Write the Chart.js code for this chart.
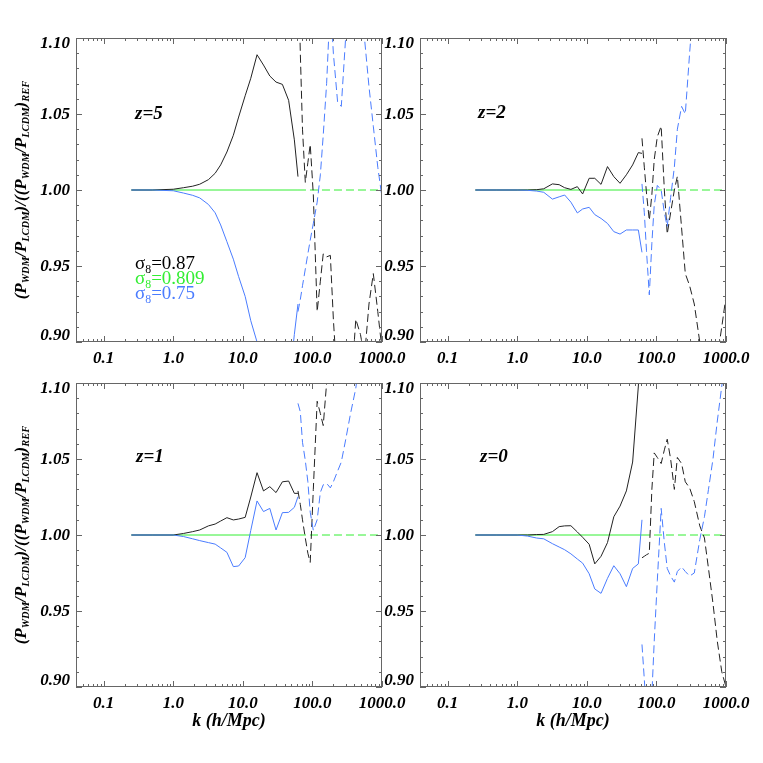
<!DOCTYPE html>
<html>
<head>
<meta charset="utf-8">
<script src="https://cdn.jsdelivr.net/npm/chart.js@4.4.1/dist/chart.umd.min.js"></script>
<style>
  body { margin: 0; background: #fff; width: 763px; height: 763px; position: relative; overflow: hidden; }
  canvas { position: absolute; }
  .txt { position: absolute; white-space: nowrap; font-family: "Liberation Serif", "DejaVu Serif", serif; line-height: 1; color: #000; }
  .bi { font-style: italic; font-weight: bold; }
  .ytitle { font-size: 17px; transform: translate(-50%, -50%) rotate(-90deg); }
  .xtitle { font-size: 18px; transform: translate(-50%, -50%); }
  .zlab { font-size: 19px; transform: translateY(-50%); }
  .leg { font-size: 19px; transform: translateY(-50%); }
  sub { font-size: 0.62em; vertical-align: -0.35em; line-height: 0; }
</style>
</head>
<body>
<canvas id="pz5" width="386" height="356" style="left:26px;top:26px"></canvas>
<canvas id="pz2" width="386" height="356" style="left:370px;top:26px"></canvas>
<canvas id="pz1" width="386" height="356" style="left:26px;top:371px"></canvas>
<canvas id="pz0" width="386" height="356" style="left:370px;top:371px"></canvas>

<div class="txt bi ytitle" style="left:20px;top:190px">(P<sub>WDM</sub>/P<sub>LCDM</sub>)/((P<sub>WDM</sub>/P<sub>LCDM</sub>)<sub>REF</sub></div>
<div class="txt bi ytitle" style="left:20px;top:535px">(P<sub>WDM</sub>/P<sub>LCDM</sub>)/((P<sub>WDM</sub>/P<sub>LCDM</sub>)<sub>REF</sub></div>
<div class="txt bi xtitle" style="left:229px;top:720px">k (h/Mpc)</div>
<div class="txt bi xtitle" style="left:573px;top:720px">k (h/Mpc)</div>

<div class="txt bi zlab" style="left:135px;top:112px">z=5</div>
<div class="txt bi zlab" style="left:478px;top:111px">z=2</div>
<div class="txt bi zlab" style="left:136px;top:455px">z=1</div>
<div class="txt bi zlab" style="left:480px;top:455px">z=0</div>

<div class="txt leg" style="left:135px;top:262px;color:#000">σ<sub>8</sub>=0.87</div>
<div class="txt leg" style="left:135px;top:277px;color:#33ee33">σ<sub>8</sub>=0.809</div>
<div class="txt leg" style="left:135px;top:292px;color:#4a7cff">σ<sub>8</sub>=0.75</div>

<script>
// k bins (h/Mpc), solid part up to the Nyquist-like cut, dashed beyond
const kSolid = [0.25, 0.5, 1.0, 1.4, 1.9, 2.4, 3.2, 4.0, 4.8, 5.9, 7.3, 8.7, 10.8, 13, 16, 19.8, 24.4, 30, 37, 45.5, 55, 62];
const kDash = [62, 67, 72, 79, 86, 93, 103, 117, 130, 143, 160, 181, 200, 230, 260, 300, 350, 420, 490, 560, 650, 750, 870, 1000];

// reference model (sigma8 = 0.809) is flat at 1
const refK = [0.25, 62];
const refKDash = [62, 1000];
const refSolid = [1.0, 1.0];
const refDash = [1.0, 1.0];

// z = 5
const z5BlackSolid = [1.0, 1.0, 1.0005, 1.0015, 1.0025, 1.0038, 1.0068, 1.011, 1.0165, 1.025, 1.036, 1.048, 1.062, 1.0735, 1.089, 1.0822, 1.075, 1.071, 1.0695, 1.059, 1.033, 1.0088];
const z5BlueSolid = [1.0, 1.0, 0.9995, 0.998, 0.9965, 0.9948, 0.9905, 0.985, 0.977, 0.966, 0.9545, 0.943, 0.930, 0.914, 0.90, 0.885, 0.87, 0.86, 0.855, 0.87, 0.905, 0.925];
const z5BlackDash = [1.16, 1.09, 1.04, 1.005, 1.018, 1.03, 0.997, 0.92, 0.94, 0.958, 0.956, 0.957, 0.915, 0.87, 0.85, 0.84, 0.86, 0.915, 0.905, 0.89, 0.925, 0.945, 0.92, 0.895];
const z5BlueDash = [0.92, 0.928, 0.937, 0.948, 0.958, 0.967, 0.978, 0.992, 1.01, 1.036, 1.07, 1.125, 1.09, 1.058, 1.055, 1.10, 1.14, 1.15, 1.14, 1.10, 1.068, 1.042, 1.015, 0.995];

// z = 2
const z2BlackSolid = [1.0, 1.0, 1.0, 1.0, 1.0002, 1.0008, 1.004, 1.0035, 1.0015, 1.0004, 1.0022, 0.9974, 1.0077, 1.0077, 1.0037, 1.0154, 1.0088, 1.0044, 1.010, 1.0165, 1.0246, 1.0241];
const z2BlueSolid = [1.0, 1.0, 1.0, 0.9998, 0.9993, 0.9985, 0.994, 0.9955, 0.9967, 0.992, 0.9849, 0.9875, 0.9886, 0.9838, 0.9813, 0.978, 0.9726, 0.971, 0.9737, 0.9737, 0.9737, 0.959];
const z2BlackDash = [1.034, 1.015, 0.998, 0.98, 0.997, 1.02, 1.035, 1.042, 1.0, 0.971, 0.985, 1.0, 1.009, 0.975, 0.945, 0.937, 0.925, 0.90, 0.885, 0.875, 0.875, 0.89, 0.91, 0.93];
const z2BlueDash = [1.004, 0.985, 0.96, 0.931, 0.965, 0.99, 1.003, 1.0, 0.985, 0.976, 0.995, 1.015, 1.04, 1.055, 1.05, 1.09, 1.13, 1.16, null, null, null, null, null, null];

// z = 1
const z1BlackSolid = [1.0, 1.0, 1.0, 1.001, 1.0022, 1.0033, 1.006, 1.0072, 1.0092, 1.0114, 1.0099, 1.0105, 1.0116, 1.025, 1.041, 1.029, 1.0318, 1.0279, 1.035, 1.0355, 1.0274, 1.0274];
const z1BlueSolid = [1.0, 1.0, 1.0, 0.999, 0.9975, 0.9963, 0.995, 0.994, 0.9915, 0.9886, 0.9792, 0.9796, 0.9851, 1.003, 1.0224, 1.0154, 1.0175, 1.0033, 1.0147, 1.0149, 1.0182, 1.0252];
const z1BlackDash = [1.029, 1.02, 1.01, 0.998, 0.988, 0.982, 1.03, 1.088, 1.08, 1.072, 1.10, 1.14, 1.17, null, null, null, null, null, null, null, null, null, null, null];
const z1BlueDash = [1.0866, 1.081, 1.061, 1.049, 1.035, 1.015, 1.003, 1.010, 1.028, 1.033, 1.034, 1.031, 1.035, 1.042, 1.048, 1.0625, 1.079, 1.0965, 1.12, null, null, null, null, null];

// z = 0
const z0BlackSolid = [1.0, 1.0, 1.0, 1.0, 1.0003, 1.0004, 1.0022, 1.0055, 1.006, 1.0061, 1.002, 0.9985, 0.9939, 0.981, 0.986, 0.995, 1.012, 1.019, 1.029, 1.048, 1.098, 1.14];
const z0BlueSolid = [1.0, 1.0, 1.0, 0.9993, 0.998, 0.9975, 0.9943, 0.9921, 0.9903, 0.9876, 0.9842, 0.9815, 0.9745, 0.9645, 0.9616, 0.9715, 0.9798, 0.9745, 0.966, 0.978, 0.981, 1.010];
const z0BlackDash = [0.985, 0.986, 0.987, 0.988, 1.03, 1.054, 1.051, 1.047, 1.056, 1.063, 1.05, 1.03, 1.051, 1.047, 1.035, 1.031, 1.022, 1.006, 0.998, 0.978, 0.955, 0.93, 0.91, 0.90];
const z0BlueDash = [0.928, 0.905, 0.88, 0.87, 0.895, 0.93, 0.97, 1.0175, 0.995, 0.978, 0.973, 0.969, 0.976, 0.979, 0.976, 0.973, 0.975, 0.997, 1.012, 1.03, 1.05, 1.075, 1.098, 1.12];

// axis ticks
const xMajorTicks = [0.1, 1, 10, 100, 1000];
const xTickLabels = ['0.1', '1.0', '10.0', '100.0', '1000.0'];
const yMajorTicks = [0.90, 0.95, 1.00, 1.05, 1.10];
const yTickLabels = ['0.90', '0.95', '1.00', '1.05', '1.10'];

const xMinorTicks = [];
[0.01, 0.1, 1, 10, 100].forEach(d => {
    for (let m = 2; m <= 9; m++) {
        const v = d * m;
        if (v >= 0.04 && v <= 1000) xMinorTicks.push(v);
    }
});
const yMinorTicks = [];
for (let i = 1; i < 20; i++) if (i % 5) yMinorTicks.push(0.9 + i * 0.01);

const BLACK = '#222222';
const BLUE = '#4a7cff';
const GREEN = '#33ee33';
const FRAME = '#666666';
const DASH = [8, 4];

const pts = (ks, vs) => ks.map((k, i) => ({ x: k, y: vs[i] }));

// IDL-like frame with inward ticks on all four sides
const frameTicks = {
    id: 'frameTicks',
    afterDraw(chart) {
        const { ctx, chartArea: a, scales: { x, y } } = chart;
        ctx.save();
        ctx.strokeStyle = FRAME;
        ctx.lineWidth = 1;
        ctx.strokeRect(a.left + 0.5, a.top + 0.5, a.right - a.left - 1, a.bottom - a.top - 1);
        ctx.beginPath();
        const xt = (v, len) => {
            const px = Math.round(x.getPixelForValue(v)) + 0.5;
            ctx.moveTo(px, a.bottom); ctx.lineTo(px, a.bottom - len);
            ctx.moveTo(px, a.top); ctx.lineTo(px, a.top + len);
        };
        const yt = (v, len) => {
            const py = Math.round(y.getPixelForValue(v)) + 0.5;
            ctx.moveTo(a.left, py); ctx.lineTo(a.left + len, py);
            ctx.moveTo(a.right, py); ctx.lineTo(a.right - len, py);
        };
        xMinorTicks.forEach(v => xt(v, 3));
        xMajorTicks.forEach(v => xt(v, 6));
        yMinorTicks.forEach(v => yt(v, 3));
        yMajorTicks.forEach(v => yt(v, 6));
        ctx.stroke();

        ctx.fillStyle = '#000';
        ctx.font = 'italic bold 17px "Liberation Serif", serif';
        ctx.textBaseline = 'middle';
        ctx.textAlign = 'center';
        xMajorTicks.forEach((v, i) => ctx.fillText(xTickLabels[i], x.getPixelForValue(v), a.bottom + 17));
        ctx.textAlign = 'right';
        yMajorTicks.forEach((v, i) => {
            let py = y.getPixelForValue(v) + 1;
            py = Math.min(Math.max(py, a.top + 6), a.bottom - 6);
            ctx.fillText(yTickLabels[i], a.left - 6, py);
        });
        ctx.restore();
    }
};

function makePanel(id, blackSolid, blueSolid, blackDash, blueDash) {
    const line = (data, color, dashed) => ({
        data: data,
        borderColor: color,
        borderWidth: 1,
        borderDash: dashed ? DASH : [],
        pointRadius: 0,
        tension: 0,
        spanGaps: true,
        fill: false
    });
    return new Chart(document.getElementById(id), {
        type: 'line',
        data: {
            datasets: [
                line(pts(kSolid, blueSolid), BLUE, false),
                line(pts(kDash, blueDash), BLUE, true),
                line(pts(kSolid, blackSolid), BLACK, false),
                line(pts(kDash, blackDash), BLACK, true),
                line(pts(refK, refSolid), GREEN, false),
                line(pts(refKDash, refDash), GREEN, true)
            ]
        },
        options: {
            responsive: false,
            animation: false,
            events: [],
            layout: { padding: { left: 50, top: 12, right: 30, bottom: 40 } },
            plugins: { legend: { display: false }, tooltip: { enabled: false } },
            scales: {
                x: { type: 'logarithmic', min: 0.04, max: 1000, display: false },
                y: { type: 'linear', min: 0.9, max: 1.1, display: false }
            }
        },
        plugins: [frameTicks]
    });
}

makePanel('pz5', z5BlackSolid, z5BlueSolid, z5BlackDash, z5BlueDash);
makePanel('pz2', z2BlackSolid, z2BlueSolid, z2BlackDash, z2BlueDash);
makePanel('pz1', z1BlackSolid, z1BlueSolid, z1BlackDash, z1BlueDash);
makePanel('pz0', z0BlackSolid, z0BlueSolid, z0BlackDash, z0BlueDash);
</script>
</body>
</html>
